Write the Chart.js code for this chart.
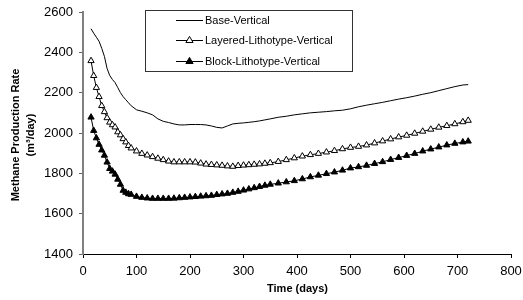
<!DOCTYPE html>
<html>
<head>
<meta charset="utf-8">
<script src="https://cdn.jsdelivr.net/npm/chart.js@4"></script>
<style>
  html, body { margin: 0; padding: 0; background: #fff; }
  #wrap { width: 523px; height: 300px; position: relative; }
</style>
</head>
<body>
<div id="wrap"><canvas id="c" width="523" height="300"></canvas></div>
<script>
const days = [15,20,25,30,35,40,45,50,55,60,65,70,75,80,85,90,100,110,120,130,140,150,160,170,180,190,200,210,220,230,240,250,260,270,280,290,300,310,320,330,340,350,365,380,395,410,425,440,455,470,485,500,515,530,545,560,575,590,605,620,635,650,665,680,695,710,720];
const baseVertical = [2517,2495,2475,2455,2420,2380,2320,2285,2265,2250,2225,2200,2180,2165,2150,2135,2115,2108,2100,2090,2070,2058,2052,2045,2040,2040,2042,2042,2042,2040,2035,2028,2025,2035,2045,2048,2050,2053,2056,2060,2065,2070,2078,2083,2090,2095,2100,2103,2106,2110,2113,2120,2130,2138,2145,2152,2160,2168,2175,2183,2192,2200,2210,2220,2230,2238,2240];
const layeredVertical = [2358,2284,2225,2180,2135,2105,2075,2053,2040,2029,2005,1990,1971,1955,1937,1925,1910,1898,1890,1882,1874,1867,1860,1856,1856,1856,1856,1855,1850,1845,1843,1841,1839,1836,1834,1838,1840,1842,1844,1846,1849,1852,1858,1867,1876,1885,1892,1898,1905,1912,1921,1928,1933,1940,1950,1960,1970,1980,1988,1998,2008,2018,2028,2036,2045,2055,2062];
const blockVertical = [2078,2012,1975,1943,1915,1889,1855,1823,1810,1795,1770,1745,1715,1705,1698,1695,1685,1680,1677,1675,1675,1675,1675,1676,1678,1680,1682,1684,1686,1688,1690,1694,1697,1700,1705,1710,1716,1722,1728,1734,1740,1745,1751,1757,1763,1772,1782,1790,1798,1806,1815,1826,1832,1839,1848,1857,1868,1878,1888,1898,1910,1920,1930,1940,1948,1955,1959];
const seriesNames = ['Base-Vertical','Layered-Lithotype-Vertical','Block-Lithotype-Vertical'];
const xTicks = [0,100,200,300,400,500,600,700,800];
const yTicks = [1400,1600,1800,2000,2200,2400,2600];
const yTitle = ['Methane Production Rate','(m\u00B3/day)'];
const xTitle = 'Time (days)';

const FONT = '"Liberation Sans", Arial, sans-serif';

function pts(vals){ return days.map((d,i)=>({x:d,y:vals[i]})); }

const legendPlugin = {
  id: 'customLegend',
  afterDraw(chart){
    const ctx = chart.ctx;
    ctx.save();
    ctx.strokeStyle = '#333';
    ctx.lineWidth = 1;
    ctx.fillStyle = '#fff';
    ctx.fillRect(145.5, 10.5, 207, 61);
    ctx.strokeRect(145.5, 10.5, 207, 61);
    const ys = [20, 40, 61];
    ctx.font = '11px ' + FONT;
    ctx.textBaseline = 'middle';
    ys.forEach((y, i) => {
      ctx.strokeStyle = '#000';
      ctx.lineWidth = 1;
      ctx.beginPath();
      ctx.moveTo(176, y + 0.5);
      ctx.lineTo(203, y + 0.5);
      ctx.stroke();
      if (i > 0) {
        const cx = 189.5, r = 3.6;
        ctx.beginPath();
        ctx.moveTo(cx, y - r);
        ctx.lineTo(cx + r, y + r * 0.7);
        ctx.lineTo(cx - r, y + r * 0.7);
        ctx.closePath();
        ctx.fillStyle = i === 1 ? '#fff' : '#000';
        ctx.fill();
        ctx.stroke();
      }
      ctx.fillStyle = '#000';
      ctx.fillText(seriesNames[i], 205, y + 0.5);
    });
    ctx.font = 'bold 11px ' + FONT;
    ctx.textAlign = 'center';
    ctx.textBaseline = 'middle';
    ctx.fillText(xTitle, 297.5, 289);
    ctx.save();
    ctx.translate(16, 135);
    ctx.rotate(-Math.PI/2);
    ctx.fillText(yTitle[0], 0, 0);
    ctx.restore();
    ctx.save();
    ctx.translate(31, 135);
    ctx.rotate(-Math.PI/2);
    ctx.fillText(yTitle[1], 0, 0);
    ctx.restore();
    ctx.restore();
  }
};

new Chart(document.getElementById('c'), {
  type: 'line',
  data: {
    datasets: [
      { label: seriesNames[0], data: pts(baseVertical), borderColor: '#000', borderWidth: 1, pointRadius: 0, tension: 0 },
      { label: seriesNames[1], data: pts(layeredVertical), borderColor: '#000', borderWidth: 1, pointStyle: 'triangle', pointRadius: 3.6, pointBackgroundColor: '#fff', pointBorderColor: '#000', pointBorderWidth: 1, tension: 0 },
      { label: seriesNames[2], data: pts(blockVertical), borderColor: '#000', borderWidth: 1, pointStyle: 'triangle', pointRadius: 3.6, pointBackgroundColor: '#000', pointBorderColor: '#000', pointBorderWidth: 1, tension: 0 }
    ]
  },
  options: {
    responsive: false,
    animation: false,
    events: [],
    layout: { padding: { left: 0, top: 12, right: 12, bottom: 0 } },
    plugins: { legend: { display: false }, tooltip: { enabled: false } },
    scales: {
      x: {
        type: 'linear', min: 0, max: 800,
        afterBuildTicks(s){ s.ticks = xTicks.map(v=>({value:v})); },
        afterFit(s){ s.height = 46; s.paddingRight = 0; s.paddingLeft = 0; },
        border: { color: '#000', width: 1 },
        grid: { drawOnChartArea: false, color: '#000', tickLength: 4 },
        ticks: { color: '#000', font: { family: FONT, size: 13 }, padding: 6, maxRotation: 0, callback: v => String(v) }
      },
      y: {
        type: 'linear', min: 1400, max: 2600,
        afterBuildTicks(s){ s.ticks = yTicks.map(v=>({value:v})); },
        afterFit(s){ s.width = 83; s.paddingTop = 0; s.paddingBottom = 0; },
        border: { color: '#808080', width: 2 },
        grid: { drawOnChartArea: false, color: '#606060', tickLength: 4 },
        ticks: { color: '#000', font: { family: FONT, size: 13 }, padding: 6, callback: v => String(v) }
      }
    }
  },
  plugins: [legendPlugin]
});
</script>
</body>
</html>
